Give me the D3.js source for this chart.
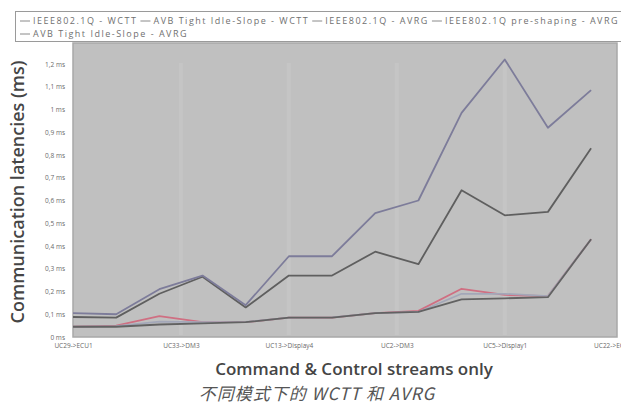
<!DOCTYPE html>
<html><head><meta charset="utf-8">
<script src="https://cdn.jsdelivr.net/npm/d3@7"></script>
<style>
html,body{margin:0;padding:0;background:#fff;}
svg{display:block;}
</style></head>
<body>
<svg id="c" width="621" height="404"></svg>
<script>
// ---- data ----
const tickLabels = ["UC29->ECU1","UC33->DM3","UC13->Display4","UC2->DM3","UC5->Display1","UC22->ECU4"];
const tickIndex = [0,5,10,15,20,25];
const pointIndex = [0,2,4,6,8,10,12,14,16,18,20,22,24];
const yTicks = [0,0.1,0.2,0.3,0.4,0.5,0.6,0.7,0.8,0.9,1.0,1.1,1.2];
const seriesNames = ["IEEE802.1Q - WCTT","AVB Tight Idle-Slope - WCTT","IEEE802.1Q - AVRG","IEEE802.1Q pre-shaping - AVRG","AVB Tight Idle-Slope - AVRG"];
const ieeeWctt   = [0.105,0.100,0.210,0.270,0.140,0.355,0.355,0.545,0.600,0.985,1.220,0.920,1.085];
const avbWctt    = [0.088,0.085,0.190,0.265,0.130,0.270,0.270,0.375,0.320,0.645,0.535,0.550,0.830];
const ieeeAvrg   = [0.045,0.050,0.092,0.065,0.065,0.085,0.085,0.105,0.115,0.212,0.185,0.180,0.430];
const preAvrg    = [0.045,0.048,0.068,0.065,0.066,0.085,0.086,0.105,0.110,0.190,0.190,0.180,0.430];
const avbAvrg    = [0.045,0.045,0.055,0.060,0.065,0.085,0.085,0.105,0.110,0.165,0.170,0.175,0.430];
const seriesValues = [ieeeWctt, avbWctt, ieeeAvrg, preAvrg, avbAvrg];
const seriesColors = ["#7d7c9a","#5f5f5f","#cf6f82","#a3a7b8","#626262"];
// draw order: AVRG first, WCTT on top
const drawOrder = [2,3,4,1,0];

const svg = d3.select("#c");
const L=73, R=617, T=43, B=337;

const x = d3.scaleLinear().domain([0,25.2]).range([L,R]);
const y = d3.scaleLinear().domain([0,1.2923]).range([B,T]);

// legend box
svg.append("rect").attr("x",15.5).attr("y",11.5).attr("width",620).attr("height",30)
  .attr("fill","#fff").attr("stroke","#9a9a9a");
let lx = 20;
seriesNames.forEach((n,i)=>{
  const row = i<4 ? 0 : 1;
  if (i===4) lx = 20;
  const g = svg.append("g").attr("transform",`translate(${lx},${row===0?21:34})`);
  g.append("line").attr("x1",0).attr("x2",10).attr("y1",0).attr("y2",0)
    .attr("stroke","#8a8a8a").attr("stroke-width",1);
  const t = g.append("text").attr("x",13).attr("y",3).text(n)
    .attr("font-family","Open Sans, sans-serif").attr("font-size",9)
    .attr("letter-spacing",1.5).attr("fill","#707070");
  lx += 13 + t.node().getComputedTextLength() + 3;
});

// plot background
svg.append("rect").attr("x",L).attr("y",T).attr("width",R-L).attr("height",B-T)
  .attr("fill","#c0c0c0").attr("stroke","#a8a8a8").attr("stroke-width",1.5);

// faint vertical gridlines
svg.append("g").selectAll("line").data(tickIndex.slice(1,5)).join("line")
  .attr("x1",d=>x(d)).attr("x2",d=>x(d)).attr("y1",T+20).attr("y2",B-2)
  .attr("stroke","#c5c5c5").attr("stroke-width",4);

// y axis
const yAxis = d3.axisLeft(y).tickValues(yTicks).tickSize(0).tickPadding(8)
  .tickFormat(d=> d===0 ? "0 ms" : (d===1 ? "1 ms" : d3.format(".1f")(d).replace(".",",")+" ms"));
const gy = svg.append("g").attr("transform",`translate(${L},0)`).call(yAxis);
gy.select(".domain").remove();
gy.selectAll("text").attr("font-family","Open Sans, sans-serif").attr("font-size",6.5).attr("fill","#6a6a6a");

// x axis
const xAxis = d3.axisBottom(x).tickValues(tickIndex).tickSize(0).tickPadding(6)
  .tickFormat((d,i)=>tickLabels[i]);
const gx = svg.append("g").attr("transform",`translate(0,${B})`).call(xAxis);
gx.select(".domain").remove();
gx.selectAll("text").attr("font-family","Open Sans, sans-serif").attr("font-size",6.5).attr("fill","#6a6a6a");

// lines
const line = d3.line().x((d,i)=>x(pointIndex[i])).y(d=>y(d));
drawOrder.forEach(si=>{
  svg.append("path").datum(seriesValues[si]).attr("d",line)
    .attr("fill","none").attr("stroke",seriesColors[si]).attr("stroke-width",1.8)
    .attr("stroke-linejoin","round");
});

// titles
svg.append("text").attr("transform","translate(24,192) rotate(-90)").attr("text-anchor","middle")
  .attr("font-family","Open Sans, sans-serif").attr("font-weight",600).attr("font-size",18)
  .attr("fill","#454545").text("Communication latencies (ms)");
svg.append("text").attr("x",354).attr("y",375).attr("text-anchor","middle")
  .attr("font-family","Open Sans, sans-serif").attr("font-weight",600).attr("font-size",17)
  .attr("fill","#454545").text("Command & Control streams only");
svg.append("text").attr("x",317).attr("y",400).attr("text-anchor","middle")
  .attr("font-family","Noto Sans CJK SC, sans-serif").attr("font-style","italic").attr("font-size",17)
  .attr("letter-spacing",1).attr("fill","#555").text("不同模式下的 WCTT 和 AVRG");
</script>
</body></html>
